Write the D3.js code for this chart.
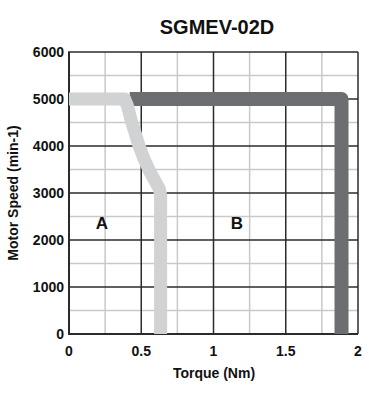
<!DOCTYPE html>
<head>
  <meta charset="utf-8">
  <script src="https://d3js.org/d3.v7.min.js"></script>
  <style>
    body { margin:0; background-color:#fff; }
    text { font-family: "Liberation Sans", Arial, sans-serif; fill:#111; }
  </style>
</head>
<body>
<div class="chart-container"></div>
<script>
// tick values
var xTicks = [0, 0.5, 1, 1.5, 2];
var xTickLabels = ["0", "0.5", "1", "1.5", "2"];
var xMinor = [0.25, 0.75, 1.25, 1.75];
var yTicks = [0, 1000, 2000, 3000, 4000, 5000, 6000];
var yMinor = [500, 1500, 2500, 3500, 4500, 5500];

// region A boundary (light) : torque, speed
var curveA = [[0, 5000], [0.385, 5000], [0.405, 4850], [0.43, 4550], [0.455, 4300],
              [0.485, 4000], [0.52, 3720], [0.56, 3450], [0.6, 3230], [0.625, 3090],
              [0.634, 2950], [0.634, 0]];
// region B boundary (dark)
var curveB = [[0.42, 5000], [1.886, 5000], [1.886, 0]];

var width = 374, height = 394;
var svg = d3.select(".chart-container").append("svg")
  .attr("width", width)
  .attr("height", height);

var xScale = d3.scaleLinear().domain([0, 2]).range([69, 358]);
var yScale = d3.scaleLinear().domain([0, 6000]).range([334, 52]);

// minor grid
svg.selectAll(".vminor").data(xMinor).enter().append("line")
  .attr("x1", d => xScale(d)).attr("x2", d => xScale(d))
  .attr("y1", yScale(0)).attr("y2", yScale(6000))
  .attr("stroke", "#c9c9c9").attr("stroke-width", 1.5);
svg.selectAll(".hminor").data(yMinor).enter().append("line")
  .attr("y1", d => yScale(d)).attr("y2", d => yScale(d))
  .attr("x1", xScale(0)).attr("x2", xScale(2))
  .attr("stroke", "#c9c9c9").attr("stroke-width", 1.5);

// major grid
svg.selectAll(".vmajor").data(xTicks).enter().append("line")
  .attr("x1", d => xScale(d)).attr("x2", d => xScale(d))
  .attr("y1", yScale(0)).attr("y2", yScale(6000))
  .attr("stroke", "#2b2b2b").attr("stroke-width", d => d == 0 ? 2 : 1.5);
svg.selectAll(".hmajor").data(yTicks).enter().append("line")
  .attr("y1", d => yScale(d)).attr("y2", d => yScale(d))
  .attr("x1", xScale(0) - 1).attr("x2", xScale(2))
  .attr("stroke", "#2b2b2b").attr("stroke-width", d => d == 0 ? 2 : 1.5);

var line = d3.line()
  .x(d => xScale(d[0]))
  .y(d => yScale(d[1]));

svg.append("path")
  .attr("d", line(curveB))
  .attr("fill", "none")
  .attr("stroke", "#6d6e71")
  .attr("stroke-width", 14)
  .attr("stroke-linejoin", "round");

svg.append("path")
  .attr("d", line(curveA))
  .attr("fill", "none")
  .attr("stroke", "#d1d2d4")
  .attr("stroke-width", 13)
  .attr("stroke-linejoin", "round");

// tick labels
svg.selectAll(".xlab").data(xTicks).enter().append("text")
  .attr("x", d => xScale(d))
  .attr("y", 356)
  .attr("text-anchor", "middle")
  .style("font-size", "14px").style("font-weight", "bold")
  .text((d, i) => xTickLabels[i]);

svg.selectAll(".ylab").data(yTicks).enter().append("text")
  .attr("x", 64)
  .attr("y", d => yScale(d) + 5)
  .attr("text-anchor", "end")
  .style("font-size", "14px").style("font-weight", "bold")
  .text(d => d);

// titles
svg.append("text")
  .attr("x", 217).attr("y", 34)
  .attr("text-anchor", "middle")
  .style("font-size", "20px").style("font-weight", "bold")
  .text("SGMEV-02D");

svg.append("text")
  .attr("x", 214).attr("y", 378)
  .attr("text-anchor", "middle")
  .style("font-size", "14px").style("font-weight", "bold")
  .text("Torque (Nm)");

svg.append("text")
  .attr("transform", "translate(18," + yScale(3000) + ") rotate(-90)")
  .attr("text-anchor", "middle")
  .style("font-size", "14px").style("font-weight", "bold")
  .text("Motor Speed (min-1)");

// region labels
svg.append("text")
  .attr("x", 102).attr("y", 229)
  .attr("text-anchor", "middle")
  .style("font-size", "17px").style("font-weight", "bold")
  .text("A");
svg.append("text")
  .attr("x", 237).attr("y", 229)
  .attr("text-anchor", "middle")
  .style("font-size", "17px").style("font-weight", "bold")
  .text("B");
</script>
</body>
